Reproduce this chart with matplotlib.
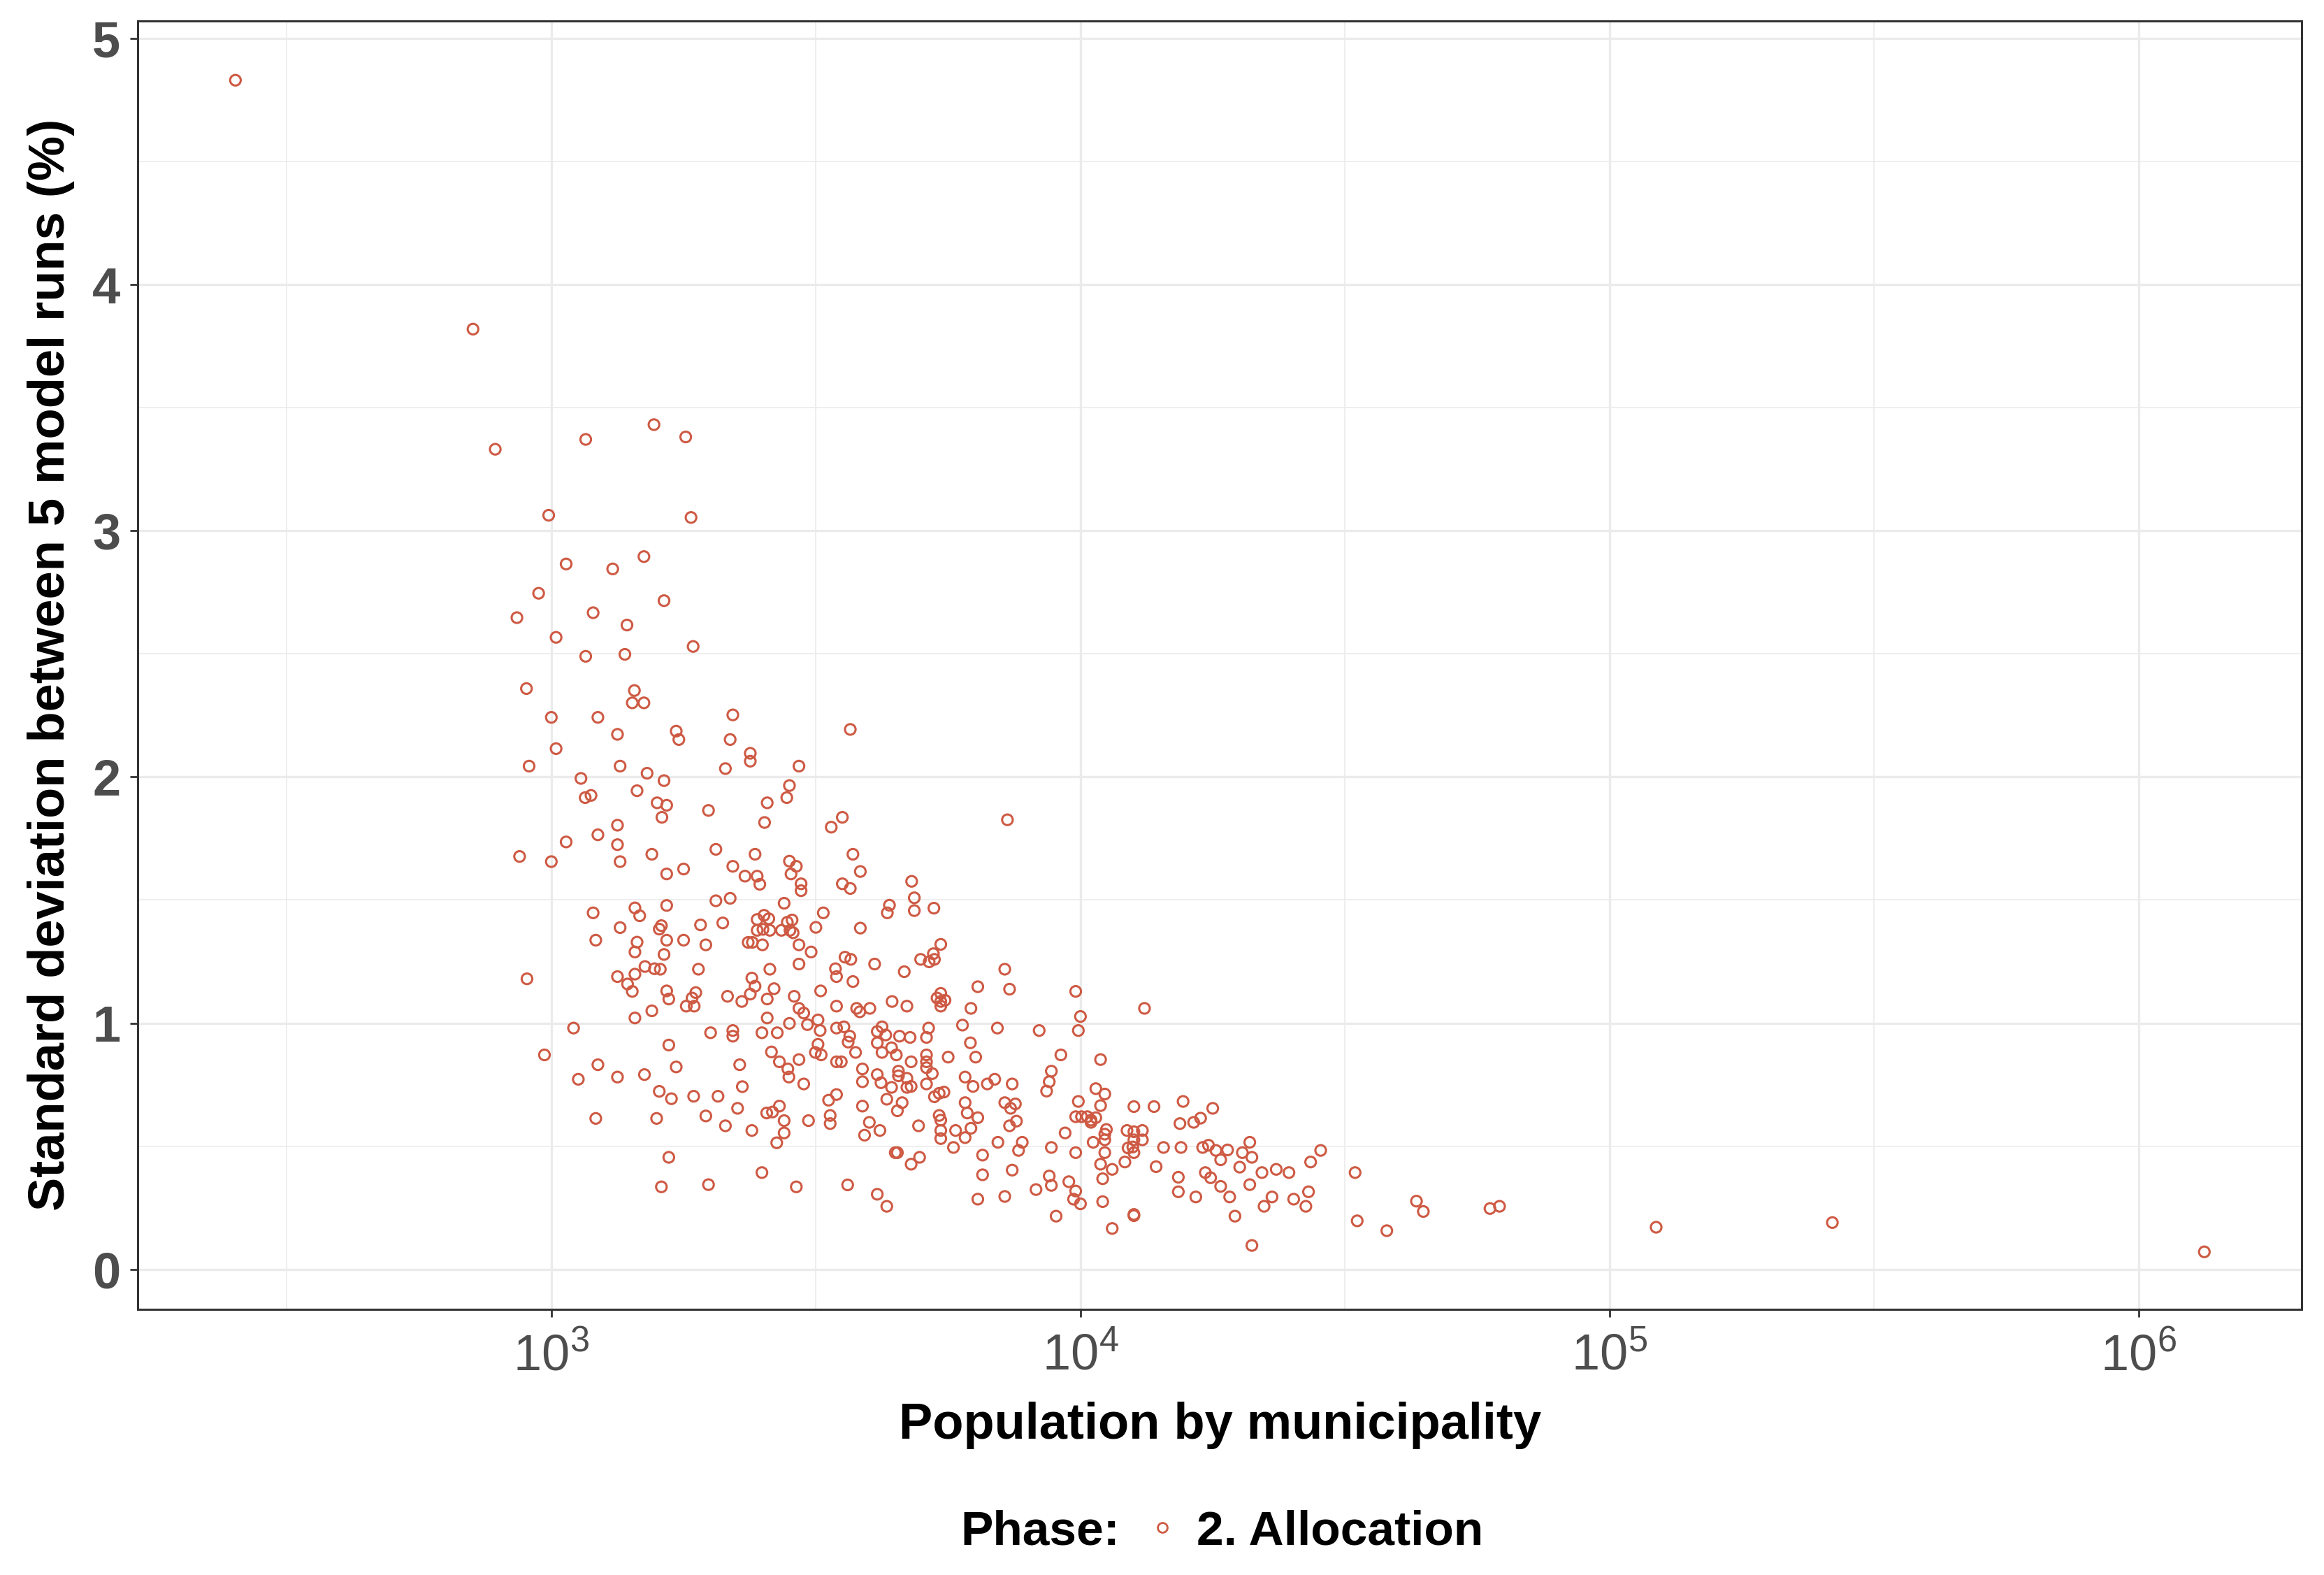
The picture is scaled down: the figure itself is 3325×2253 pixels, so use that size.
import numpy as np
import matplotlib
matplotlib.use("Agg")
import matplotlib.pyplot as plt
from matplotlib.lines import Line2D
from matplotlib.ticker import FixedLocator, LogFormatterSciNotation, NullFormatter

# values: log10 of population, and SD (%)
# outliers + upper group
log_pop_top = [2.403, 2.852, 2.894, 3.065, 3.194, 3.254, 2.995, 3.264, 3.028, 3.116,
               3.175, 2.976, 3.213, 2.935, 3.079, 3.143, 3.009, 3.065, 3.139, 3.268,
               2.953, 3.157]
sd_top = [4.83, 3.819, 3.331, 3.371, 3.431, 3.381, 3.063, 3.054, 2.865, 2.845,
          2.895, 2.746, 2.716, 2.647, 2.667, 2.617, 2.567, 2.490, 2.498, 2.530,
          2.359, 2.351]

# 1000 - 3500 inhabitants, SD above ~1
log_pop_mid = [3.153, 3.175, 3.000, 3.088, 3.343, 3.125, 3.236, 3.241, 3.338, 3.009,
               3.376, 3.376, 2.958, 3.130, 3.329, 3.468, 3.181, 3.056, 3.213, 3.064,
               3.075, 3.162, 3.450, 3.445, 3.200, 3.218, 3.408, 3.297, 3.209, 3.403,
               3.125, 3.529, 3.088, 3.028, 3.125, 3.311, 2.940, 3.000, 3.130, 3.190,
               3.385, 3.343, 3.450, 3.463, 3.250, 3.218, 3.366, 3.389, 3.453, 3.394,
               3.472, 3.472, 3.311, 3.338, 3.440, 3.218, 3.079, 3.158, 3.167, 3.514,
               3.402, 3.389, 3.411, 3.455, 3.446, 3.400, 3.389, 3.413, 3.435, 3.451,
               3.457, 3.130, 3.208, 3.204, 3.282, 3.324, 3.500, 3.084, 3.162, 3.218,
               3.250, 3.292, 3.372, 3.380, 3.399, 3.468, 3.491, 3.158, 3.213, 3.177,
               3.195, 3.206, 3.278, 3.413, 3.468, 3.537, 2.954, 3.125, 3.158, 3.379,
               3.539, 3.144, 3.153, 3.218, 3.273, 3.385, 3.421, 3.509, 3.222, 3.266,
               3.333, 3.376, 3.360, 3.408, 3.459, 3.255, 3.270, 3.190, 3.468, 3.477,
               3.539]
sd_mid = [2.301, 2.301, 2.242, 2.242, 2.252, 2.173, 2.186, 2.152, 2.152, 2.115,
          2.096, 2.064, 2.044, 2.044, 2.034, 2.044, 2.015, 1.994, 1.985, 1.916,
          1.925, 1.944, 1.965, 1.916, 1.895, 1.885, 1.895, 1.864, 1.836, 1.815,
          1.804, 1.796, 1.765, 1.736, 1.725, 1.706, 1.677, 1.656, 1.656, 1.686,
          1.686, 1.637, 1.658, 1.637, 1.626, 1.606, 1.597, 1.597, 1.606, 1.564,
          1.566, 1.538, 1.497, 1.507, 1.487, 1.478, 1.448, 1.468, 1.436, 1.448,
          1.438, 1.421, 1.424, 1.419, 1.410, 1.381, 1.377, 1.377, 1.377, 1.377,
          1.367, 1.388, 1.396, 1.382, 1.399, 1.407, 1.389, 1.337, 1.329, 1.337,
          1.337, 1.318, 1.328, 1.328, 1.318, 1.318, 1.289, 1.289, 1.279, 1.230,
          1.221, 1.219, 1.219, 1.219, 1.240, 1.221, 1.180, 1.189, 1.199, 1.183,
          1.189, 1.159, 1.129, 1.131, 1.124, 1.150, 1.140, 1.131, 1.098, 1.102,
          1.109, 1.118, 1.088, 1.098, 1.109, 1.069, 1.069, 1.050, 1.060, 1.041,
          1.069]

# 1000 - 3500 inhabitants, SD below ~1
log_pop_low = [3.158, 3.408, 3.450, 3.504, 3.484, 3.508, 3.539, 3.042, 3.301, 3.343,
               3.343, 3.398, 3.427, 3.222, 3.504, 3.499, 3.510, 3.416, 3.431, 3.447,
               3.449, 3.468, 3.539, 2.987, 3.088, 3.236, 3.356, 3.051, 3.125, 3.176,
               3.361, 3.477, 3.204, 3.227, 3.269, 3.315, 3.524, 3.539, 3.352, 3.431,
               3.407, 3.418, 3.084, 3.199, 3.292, 3.440, 3.486, 3.527, 3.527, 3.329,
               3.379, 3.440, 3.426, 3.222, 3.398, 3.208, 3.297, 3.463]
sd_low = [1.021, 1.021, 0.999, 1.013, 0.994, 0.970, 0.980, 0.980, 0.961, 0.970,
          0.947, 0.961, 0.961, 0.911, 0.914, 0.881, 0.871, 0.883, 0.843, 0.814,
          0.781, 0.852, 0.843, 0.871, 0.831, 0.822, 0.831, 0.772, 0.781, 0.791,
          0.742, 0.753, 0.723, 0.693, 0.703, 0.703, 0.687, 0.710, 0.654, 0.663,
          0.635, 0.639, 0.613, 0.613, 0.623, 0.604, 0.604, 0.625, 0.592, 0.583,
          0.564, 0.554, 0.514, 0.455, 0.393, 0.335, 0.344, 0.335]

# 3500 - 10000 inhabitants, SD above ~1
log_pop_b = [3.565, 3.550, 3.862, 3.570, 3.584, 3.550, 3.565, 3.681, 3.639, 3.635,
             3.686, 3.686, 3.723, 3.584, 3.736, 3.722, 3.714, 3.698, 3.724, 3.555,
             3.566, 3.611, 3.667, 3.570, 3.857, 3.806, 3.866, 3.991, 3.736, 3.736,
             3.729, 3.744, 3.736, 3.644, 3.672, 3.602, 3.577, 3.583, 3.793, 4.121]
sd_b = [2.193, 1.836, 1.826, 1.686, 1.616, 1.566, 1.547, 1.576, 1.479, 1.448,
        1.509, 1.457, 1.467, 1.386, 1.320, 1.282, 1.249, 1.259, 1.259, 1.268,
        1.259, 1.240, 1.209, 1.169, 1.219, 1.148, 1.138, 1.129, 1.121, 1.088,
        1.102, 1.093, 1.069, 1.088, 1.069, 1.060, 1.060, 1.046, 1.060, 1.060]

# 3500 - 16000 inhabitants, SD below ~1
log_pop_c = [3.553, 3.564, 3.561, 3.575, 3.548, 3.625, 3.616, 3.632, 3.616, 3.625,
             3.643, 3.652, 3.658, 3.678, 3.713, 3.709, 3.777, 3.843, 3.922, 3.996,
             4.000, 3.792, 3.750, 3.802, 3.680, 3.709, 3.709, 3.709, 3.963, 4.038,
             3.588, 3.588, 3.616, 3.656, 3.656, 3.672, 3.720, 3.623, 3.643, 3.672,
             3.680, 3.709, 3.733, 3.724, 3.742, 3.782, 3.797, 3.824, 3.838, 3.871,
             3.945, 3.941, 3.936, 3.588, 3.634, 3.663, 3.654, 3.782, 3.857, 3.877,
             3.868, 3.996, 4.029, 4.046, 4.038, 4.101, 4.139, 4.194, 3.733, 3.736,
             3.786, 3.806, 3.793, 3.782, 3.764, 3.736, 3.736, 3.760, 3.879, 3.866,
             3.991, 4.002, 4.013, 4.020, 4.029, 4.020, 4.188, 3.601, 3.592, 3.621,
             3.694, 3.971, 4.049, 4.046, 4.046, 4.088, 4.101, 4.117, 4.101, 4.117,
             4.024, 4.099, 4.101, 4.090, 3.844, 3.890, 3.883, 3.945, 3.991, 4.046,
             4.157, 4.190, 3.654, 3.650, 3.696, 3.680, 3.815, 3.815, 3.871, 4.038,
             4.060, 4.084, 4.143, 4.185, 3.560, 3.616, 3.634, 3.806, 3.857, 3.916,
             3.941, 3.945, 3.978, 3.991, 3.987, 4.000, 4.042, 4.042, 4.185, 3.954,
             4.101, 4.101, 4.060]
sd_c = [0.985, 0.947, 0.923, 0.881, 0.843, 0.985, 0.966, 0.952, 0.920, 0.881,
        0.900, 0.871, 0.947, 0.942, 0.980, 0.942, 0.992, 0.980, 0.970, 0.970,
        1.027, 0.920, 0.862, 0.862, 0.843, 0.871, 0.843, 0.819, 0.871, 0.852,
        0.814, 0.762, 0.791, 0.805, 0.786, 0.776, 0.795, 0.758, 0.739, 0.739,
        0.743, 0.753, 0.715, 0.701, 0.720, 0.781, 0.743, 0.753, 0.772, 0.753,
        0.805, 0.762, 0.724, 0.663, 0.691, 0.677, 0.644, 0.677, 0.677, 0.672,
        0.654, 0.682, 0.734, 0.712, 0.665, 0.661, 0.661, 0.682, 0.625, 0.606,
        0.635, 0.616, 0.573, 0.535, 0.564, 0.564, 0.531, 0.495, 0.602, 0.583,
        0.620, 0.620, 0.620, 0.606, 0.616, 0.597, 0.592, 0.597, 0.545, 0.564,
        0.583, 0.554, 0.568, 0.549, 0.526, 0.564, 0.559, 0.564, 0.526, 0.526,
        0.516, 0.497, 0.474, 0.493, 0.516, 0.516, 0.483, 0.495, 0.474, 0.474,
        0.495, 0.495, 0.474, 0.474, 0.455, 0.427, 0.464, 0.384, 0.403, 0.427,
        0.406, 0.436, 0.417, 0.374, 0.343, 0.305, 0.256, 0.285, 0.296, 0.324,
        0.379, 0.341, 0.356, 0.318, 0.285, 0.266, 0.368, 0.275, 0.315, 0.216,
        0.223, 0.218, 0.166]

# larger municipalities
log_pop_big = [4.214, 4.227, 4.250, 4.231, 4.242, 4.256, 4.278, 4.265, 4.306, 4.320,
               4.324, 4.301, 4.236, 4.246, 4.265, 4.218, 4.282, 4.320, 4.343, 4.370,
               4.394, 4.435, 4.454, 4.362, 4.347, 4.403, 4.431, 4.426, 4.292, 4.324,
               4.519, 4.523, 4.579, 4.635, 4.648, 4.774, 4.792,
               5.088, 5.421, 6.124]
sd_big = [0.597, 0.614, 0.654, 0.495, 0.504, 0.483, 0.485, 0.445, 0.474, 0.516,
          0.455, 0.415, 0.393, 0.372, 0.337, 0.294, 0.294, 0.344, 0.393, 0.406,
          0.393, 0.436, 0.483, 0.294, 0.256, 0.285, 0.315, 0.256, 0.216, 0.097,
          0.393, 0.197, 0.157, 0.277, 0.235, 0.247, 0.256,
          0.171, 0.190, 0.071]

x_major = [1e3, 1e4, 1e5, 1e6]
x_minor_exp = [2.5, 3.5, 4.5, 5.5]
y_major = [0, 1, 2, 3, 4, 5]
y_minor = [0.5, 1.5, 2.5, 3.5, 4.5]

plt.rcParams["font.family"] = ["Liberation Sans", "DejaVu Sans"]
plt.rcParams["mathtext.fontset"] = "custom"
plt.rcParams["mathtext.rm"] = "Liberation Sans"
plt.rcParams["mathtext.it"] = "Liberation Sans:italic"
plt.rcParams["mathtext.bf"] = "Liberation Sans:bold"

point_color = "#CE5A44"

log_pop = log_pop_top + log_pop_mid + log_pop_low + log_pop_b + log_pop_c + log_pop_big
sd = sd_top + sd_mid + sd_low + sd_b + sd_c + sd_big
population = 10 ** np.array(log_pop)

fig = plt.figure(figsize=(16.625, 11.265), dpi=200)
ax = fig.add_axes([0.0593, 0.1686, 0.9311, 0.8183])

ax.scatter(population, sd, s=30, facecolors="none", edgecolors=point_color,
           linewidths=1.1, zorder=3)

ax.set_xscale("log")
ax.set_xlim(10 ** 2.2185, 10 ** 6.308)
ax.set_ylim(-0.163, 5.072)

ax.xaxis.set_major_locator(FixedLocator(x_major))
ax.xaxis.set_minor_locator(FixedLocator([10 ** e for e in x_minor_exp]))
ax.xaxis.set_major_formatter(LogFormatterSciNotation())
ax.xaxis.set_minor_formatter(NullFormatter())
ax.set_yticks(y_major)
ax.set_yticks(y_minor, minor=True)

ax.grid(which="major", color="#EBEBEB", linewidth=1.2)
ax.grid(which="minor", color="#EBEBEB", linewidth=0.6)
ax.set_axisbelow(True)

ax.tick_params(which="major", length=4, width=1.0, color="#333333", pad=5,
               labelsize=26, labelcolor="#4D4D4D")
ax.tick_params(axis="x", which="major", pad=8)
ax.tick_params(which="minor", length=0)
plt.setp(ax.get_yticklabels(), fontweight="bold")

for sp in ax.spines.values():
    sp.set_color("#333333")
    sp.set_linewidth(1.1)

ax.set_xlabel("Population by municipality", fontsize=26, fontweight="bold", labelpad=11)
ax.set_ylabel("Standard deviation between 5 model runs (%)", fontsize=26,
              fontweight="bold", labelpad=9)

# legend at the bottom, ggplot style
fig.text(0.4133, 0.0273, "Phase:", fontsize=25, fontweight="bold", va="center", ha="left")
handle = Line2D([], [], linestyle="none", marker="o", markersize=5,
                markerfacecolor="none", markeredgecolor=point_color, markeredgewidth=1.0)
fig.legend([handle], ["2. Allocation"], loc="center left", bbox_to_anchor=(0.494, 0.0273),
           frameon=False, prop={"size": 25, "weight": "bold"}, handlelength=0.6,
           handletextpad=0.4, borderpad=0, borderaxespad=0)

fig.savefig("out.png", dpi=200)
